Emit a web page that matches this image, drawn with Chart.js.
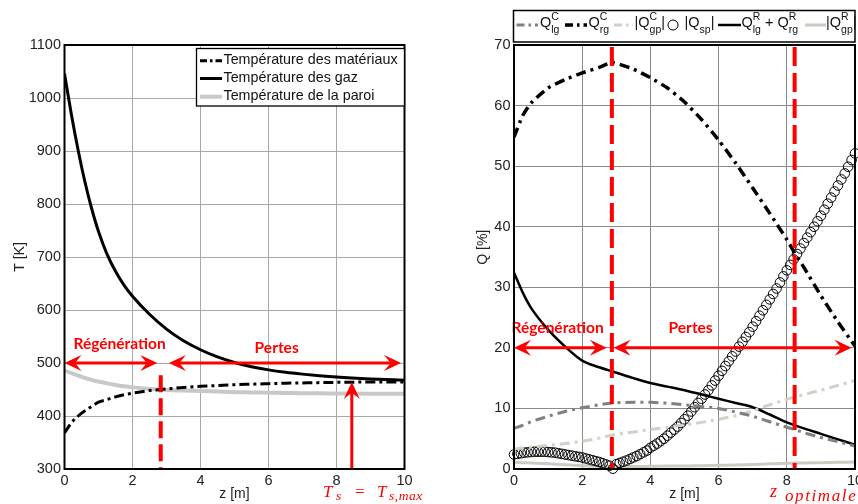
<!DOCTYPE html>
<html><head><meta charset="utf-8">
<script src="https://cdn.jsdelivr.net/npm/chart.js@4.4.0/dist/chart.umd.min.js"></script>
<style>
html,body{margin:0;padding:0;background:#fff;}
#wrap{position:relative;width:858px;height:504px;overflow:hidden;background:#fff;}
canvas{position:absolute;top:0;}
</style></head><body>
<div id="wrap">
<canvas id="c1" width="430" height="504" style="left:0"></canvas>
<canvas id="c2" width="450" height="504" style="left:430px"></canvas>
</div>
<script>
// ---------- Left panel data: temperatures [K] vs z [m] ----------
const zT    = [0,0.2,0.4,0.6,0.8,1,1.25,1.5,1.75,2,2.5,3,3.5,4,4.5,5,5.5,6,6.5,7,7.5,8,9,10];
const tGas  = [1046,970,902,842,791,748,705.5,673,647,626,592,564,542,525,511.5,501,493,487,482.5,479,476,473.5,470,467.5];
const tMat  = [368,387,400,410,418,426,431,436,440,443,448,451,454,456,457.5,459,460,461,462,462.5,463,463.5,464,464];
const tWall = [486,481,476,472,468,465,461.5,458.5,456,454,451,449,448,447,446,445,444.5,444,443.5,443,442.7,442.5,442,442];
const leftLabels = ['Température des matériaux','Température des gaz','Température de la paroi'];

// ---------- Right panel data: Q [%] vs z [m] ----------
const zQ      = [0,0.25,0.5,1,1.5,2,2.5,2.88,3.5,4,4.5,5,5.5,6,6.5,7,7.5,8,8.24,8.5,9,9.5,10];
const qLgC    = [6.7,7.2,7.8,8.7,9.5,10.1,10.6,10.9,11.0,11.0,10.85,10.6,10.3,10.0,9.4,8.7,7.8,6.9,6.5,6.0,5.2,4.5,3.8];
const qRgC    = [54.8,58.3,60.4,62.9,64.3,65.4,66.3,67.1,66.0,64.6,62.9,60.6,57.7,54.3,50.5,46.4,42.2,37.9,35.6,33.3,28.6,24.3,20.3];
const qGpC    = [3.3,3.45,3.6,3.9,4.2,4.6,5.1,5.6,6.1,6.5,6.9,7.3,7.7,8.2,8.8,9.6,10.6,11.5,11.9,12.3,13.0,13.8,14.6];
const qLgRgR  = [32.4,29.2,26.6,23.0,20.2,17.9,16.8,16.1,15.0,14.2,13.6,13.0,12.3,11.6,10.9,10.2,9.0,7.7,7.2,6.7,5.8,4.9,4.0];
const qGpR    = [1.1,1.05,1.0,0.85,0.7,0.55,0.45,0.4,0.4,0.45,0.5,0.5,0.55,0.6,0.65,0.75,0.85,0.95,0.97,1.0,1.05,1.1,1.15];
const zSp = [0,0.1,0.2,0.3,0.4,0.5,0.6,0.7,0.8,0.9,1,1.1,1.2,1.3,1.4,1.5,1.6,1.7,1.8,1.9,2,2.1,2.2,2.3,2.4,2.5,2.6,2.7,2.8,2.9,
             3,3.1,3.2,3.3,3.4,3.5,3.6,3.7,3.8,3.9,4,4.1,4.2,4.3,4.4,4.5,4.6,4.7,4.8,4.9,5,5.1,5.2,5.3,5.4,5.5,5.6,5.7,5.8,5.9,
             6,6.1,6.2,6.3,6.4,6.5,6.6,6.7,6.8,6.9,7,7.1,7.2,7.3,7.4,7.5,7.6,7.7,7.8,7.9,8,8.1,8.2,8.3,8.4,8.5,8.6,8.7,8.8,8.9,
             9,9.1,9.2,9.3,9.4,9.5,9.6,9.7,9.8,9.9,10];
const qSp = [2.4,2.5,2.6,2.7,2.75,2.8,2.85,2.85,2.85,2.85,2.8,2.75,2.7,2.6,2.5,2.4,2.3,2.2,2.1,2.0,1.9,1.75,1.6,1.45,1.3,1.15,0.95,0.75,0.55,0.05,
             0.8,1.0,1.2,1.4,1.65,1.9,2.15,2.45,2.75,3.05,3.5,3.85,4.2,4.6,5.0,5.5,6.0,6.5,7.0,7.6,8.2,8.8,9.5,10.2,10.9,11.6,12.3,13.0,13.8,14.6,
             15.4,16.2,17.0,17.8,18.6,19.4,20.2,21.0,21.8,22.6,23.5,24.4,25.3,26.2,27.1,28.0,28.9,29.8,30.8,31.8,32.8,33.7,34.6,35.5,36.4,37.3,38.2,39.1,40.0,40.9,
             41.8,42.8,43.8,44.8,45.8,46.8,47.8,48.8,49.9,51.0,52.1];

// ---------- annotation positions (data units) ----------
const zRegenL = 2.83, zTsMax = 8.45, tTsMax = 464;
const zRegenR = 2.87, zOpt = 8.23;

const FONT = "'Liberation Sans', Arial, sans-serif";
const TXT = '#222';
const RED = '#ff0000';
const pts = (xs, ys) => xs.map((x, i) => ({x, y: ys[i]}));

function arrowHead(ctx, tx, ty, ang, len, half) {
  ctx.save(); ctx.translate(tx, ty); ctx.rotate(ang);
  ctx.beginPath(); ctx.moveTo(0, 0); ctx.lineTo(-len, -half); ctx.lineTo(-len * 0.62, 0); ctx.lineTo(-len, half);
  ctx.closePath(); ctx.fill(); ctx.restore();
}
function dblArrow(ctx, x1, x2, y) {
  ctx.beginPath(); ctx.moveTo(x1 + 6, y); ctx.lineTo(x2 - 6, y); ctx.stroke();
  arrowHead(ctx, x2, y, 0, 17, 8); arrowHead(ctx, x1, y, Math.PI, 17, 8);
}
function spaced(ctx, s, x, y, sp) {
  let cx = x;
  for (const ch of s) { ctx.fillText(ch, cx, y); cx += ctx.measureText(ch).width + sp; }
  return cx;
}
function rich(ctx, x, y, parts) {
  let cx = x;
  for (const p of parts) {
    if (p.t !== undefined) { ctx.font = '14.5px ' + FONT; ctx.fillText(p.t, cx, y); cx += ctx.measureText(p.t).width; }
    else {
      ctx.font = '10.5px ' + FONT; let w = 0;
      if (p.sup) { ctx.fillText(p.sup, cx, y - 6.5); w = Math.max(w, ctx.measureText(p.sup).width); }
      if (p.sub) { ctx.fillText(p.sub, cx, y + 6.5); w = Math.max(w, ctx.measureText(p.sub).width); }
      cx += w;
    }
  }
  return cx;
}
function sample(ctx, x1, x2, y, ds) {
  ctx.save(); ctx.strokeStyle = ds.borderColor; ctx.lineWidth = ds.borderWidth;
  ctx.setLineDash(ds.legendDash || []); ctx.beginPath(); ctx.moveTo(x1, y); ctx.lineTo(x2, y); ctx.stroke(); ctx.restore();
}

function axisCfg(min, max, step, title, titlePad, size, gridColor) {
  return {
    type: 'linear', min, max,
    ticks: {stepSize: step, padding: 3.5, color: TXT, font: {family: FONT, size: 14.5}, maxRotation: 0, autoSkip: false,
            callback: v => String(v)},
    grid: {color: gridColor, drawTicks: false, lineWidth: 1},
    border: {display: false},
    title: {display: true, text: title, color: TXT, font: {family: FONT, size: 14}, padding: titlePad},
    afterFit(s) { if (s.isHorizontal()) s.height = size; else s.width = size; }
  };
}

// ---------------- LEFT CHART ----------------
const leftDeco = {
  id: 'leftDeco',
  afterDatasetsDraw(chart) {
    const {ctx, chartArea: a, scales: {x, y}} = chart;
    ctx.save();
    ctx.strokeStyle = RED; ctx.fillStyle = RED;
    ctx.lineWidth = 4; ctx.setLineDash([17, 6]);
    const xd = x.getPixelForValue(zRegenL);
    ctx.beginPath(); ctx.moveTo(xd, y.getPixelForValue(477)); ctx.lineTo(xd, y.getPixelForValue(300)); ctx.stroke();
    ctx.setLineDash([]); ctx.lineWidth = 3;
    const ya = y.getPixelForValue(500);
    dblArrow(ctx, x.getPixelForValue(0), x.getPixelForValue(2.73), ya);
    dblArrow(ctx, x.getPixelForValue(3.07), x.getPixelForValue(9.9), ya);
    const xv = x.getPixelForValue(zTsMax);
    ctx.beginPath(); ctx.moveTo(xv, y.getPixelForValue(300)); ctx.lineTo(xv, y.getPixelForValue(tTsMax) + 8); ctx.stroke();
    arrowHead(ctx, xv, y.getPixelForValue(tTsMax), -Math.PI / 2, 17, 8);
    ctx.font = "bold 15.5px Lato, 'Open Sans', sans-serif"; ctx.textAlign = 'center'; ctx.textBaseline = 'alphabetic';
    ctx.fillText('Régénération', x.getPixelForValue(1.62), 349);
    ctx.fillText('Pertes', x.getPixelForValue(6.24), 352.5);
    // frame
    ctx.strokeStyle = '#000'; ctx.lineWidth = 2;
    ctx.strokeRect(a.left, a.top, a.right - a.left, a.bottom - a.top);
    // legend
    ctx.fillStyle = '#fff'; ctx.fillRect(196, 48, 208, 58);
    ctx.strokeStyle = '#000'; ctx.lineWidth = 1.3; ctx.strokeRect(196.5, 48.5, 208, 57.5);
    const sy = [60.7, 78.5, 96.7];
    chart.data.datasets.forEach((ds, i) => {
      sample(ctx, 200, 222, sy[i], ds);
      ctx.fillStyle = '#111'; ctx.textAlign = 'left'; ctx.font = '14.3px ' + FONT;
      ctx.fillText(ds.label, 223.5, sy[i] + 3.5);
    });
    // Ts = Ts,max
    ctx.fillStyle = RED; ctx.textAlign = 'left';
    ctx.font = "italic 17px 'Liberation Serif', serif"; ctx.fillText('T', 323, 497);
    ctx.font = "italic 13.5px 'Liberation Serif', serif"; ctx.fillText('s', 336, 500);
    ctx.font = "17px 'Liberation Serif', serif"; ctx.fillText('=', 355, 497);
    ctx.font = "italic 17px 'Liberation Serif', serif"; ctx.fillText('T', 377, 497);
    ctx.font = "italic 13.5px 'Liberation Serif', serif"; spaced(ctx, 's,max', 389, 500, 0.5);
    ctx.restore();
  }
};

new Chart(document.getElementById('c1'), {
  type: 'line',
  data: {datasets: [
    {label: leftLabels[0], data: pts(zT, tMat), borderColor: '#000', borderWidth: 3, borderDash: [10, 4, 3, 4], legendDash: [7, 3, 2.5, 3], pointRadius: 0, cubicInterpolationMode: 'monotone'},
    {label: leftLabels[1], data: pts(zT, tGas), borderColor: '#000', borderWidth: 3, pointRadius: 0, cubicInterpolationMode: 'monotone'},
    {label: leftLabels[2], data: pts(zT, tWall), borderColor: '#c8c8c8', borderWidth: 4, pointRadius: 0, cubicInterpolationMode: 'monotone'}
  ]},
  options: {
    responsive: false, animation: false, devicePixelRatio: 1,
    layout: {padding: {left: 0, right: 25.5, top: 45, bottom: 0}},
    plugins: {legend: {display: false}, tooltip: {enabled: false}},
    scales: {
      x: axisCfg(0, 10, 2, 'z [m]', {top: 0, bottom: 1}, 35, '#a8a8a8'),
      y: axisCfg(300, 1100, 100, 'T [K]', {top: 11.6, bottom: 0}, 64.5, '#a8a8a8')
    }
  },
  plugins: [leftDeco]
});

// ---------------- RIGHT CHART ----------------
const OX = 430;
const rightDeco = {
  id: 'rightDeco',
  afterDatasetsDraw(chart) {
    const {ctx, chartArea: a, scales: {x, y}} = chart;
    ctx.save();
    ctx.strokeStyle = RED; ctx.fillStyle = RED;
    ctx.lineWidth = 4; ctx.setLineDash([19, 7]);
    for (const zv of [zRegenR, zOpt]) {
      const xd = x.getPixelForValue(zv);
      ctx.beginPath(); ctx.moveTo(xd, a.top + 2); ctx.lineTo(xd, a.bottom); ctx.stroke();
    }
    ctx.setLineDash([]); ctx.lineWidth = 3;
    const ya = y.getPixelForValue(20);
    dblArrow(ctx, x.getPixelForValue(0), x.getPixelForValue(2.72), ya);
    dblArrow(ctx, x.getPixelForValue(2.92), x.getPixelForValue(9.9), ya);
    ctx.font = "bold 15.5px Lato, 'Open Sans', sans-serif"; ctx.textAlign = 'center';
    ctx.fillText('Régénération', x.getPixelForValue(1.28), 333);
    ctx.fillText('Pertes', x.getPixelForValue(5.18), 333);
    ctx.strokeStyle = '#000'; ctx.lineWidth = 2;
    ctx.strokeRect(a.left, a.top, a.right - a.left, a.bottom - a.top);
    // legend box
    ctx.fillStyle = '#fff'; ctx.fillRect(513 - OX, 10, 342, 32);
    ctx.strokeStyle = '#000'; ctx.lineWidth = 1.5; ctx.strokeRect(513.5 - OX, 10.5, 341.5, 31.5);
    const ds = chart.data.datasets;
    const ly = 25, by = 26.5;
    ctx.textAlign = 'left'; ctx.fillStyle = '#111';
    sample(ctx, 516.5 - OX, 538 - OX, ly, ds[0]);
    ctx.fillStyle = '#111'; rich(ctx, 540 - OX, by, [{t: 'Q'}, {sup: 'C', sub: 'lg'}]);
    sample(ctx, 565 - OX, 587 - OX, ly, ds[1]);
    rich(ctx, 588.5 - OX, by, [{t: 'Q'}, {sup: 'C', sub: 'rg'}]);
    sample(ctx, 614 - OX, 633 - OX, ly, ds[2]);
    rich(ctx, 634.5 - OX, by, [{t: '|Q'}, {sup: 'C', sub: 'gp'}, {t: '|'}]);
    ctx.save(); ctx.strokeStyle = '#000'; ctx.lineWidth = 1; ctx.beginPath(); ctx.arc(673 - OX, ly, 5, 0, Math.PI * 2); ctx.stroke(); ctx.restore();
    rich(ctx, 684.5 - OX, by, [{t: '|Q'}, {sub: 'sp'}, {t: '|'}]);
    sample(ctx, 718 - OX, 741 - OX, ly, ds[4]);
    rich(ctx, 741.5 - OX, by, [{t: 'Q'}, {sup: 'R', sub: 'lg'}, {t: ' + Q'}, {sup: 'R', sub: 'rg'}]);
    sample(ctx, 805 - OX, 826 - OX, ly, ds[5]);
    rich(ctx, 826 - OX, by, [{t: '|Q'}, {sup: 'R', sub: 'gp'}, {t: '|'}]);
    // z optimale
    ctx.fillStyle = RED;
    ctx.font = "italic 18px 'Liberation Serif', serif"; ctx.fillText('z', 770 - OX, 497);
    ctx.font = "italic 17px 'Liberation Serif', serif"; spaced(ctx, 'optimale', 785 - OX, 500.5, 1.6);
    ctx.restore();
  }
};

new Chart(document.getElementById('c2'), {
  type: 'line',
  data: {datasets: [
    {label: 'Q_lg^C', data: pts(zQ, qLgC), borderColor: '#808080', borderWidth: 3, borderDash: [10, 5, 3, 5], legendDash: [8, 4, 2.5, 4], pointRadius: 0, cubicInterpolationMode: 'monotone'},
    {label: 'Q_rg^C', data: pts(zQ, qRgC), borderColor: '#000', borderWidth: 3.5, borderDash: [10, 5, 3, 5], legendDash: [8, 4, 2.5, 4], pointRadius: 0, tension: 0.2},
    {label: '|Q_gp^C|', data: pts(zQ, qGpC), borderColor: '#d3d0c7', borderWidth: 3, borderDash: [10, 5, 3, 5], legendDash: [8, 4, 2.5, 4], pointRadius: 0, cubicInterpolationMode: 'monotone'},
    {label: '|Q_sp|', data: pts(zSp, qSp), showLine: false, pointRadius: 4.8, pointBorderWidth: 1, pointBorderColor: '#000', pointBackgroundColor: 'rgba(0,0,0,0)', borderColor: '#000', clip: false},
    {label: 'Q_lg^R + Q_rg^R', data: pts(zQ, qLgRgR), borderColor: '#000', borderWidth: 2.5, pointRadius: 0, cubicInterpolationMode: 'monotone'},
    {label: '|Q_gp^R|', data: pts(zQ, qGpR), borderColor: '#cdcac1', borderWidth: 3, pointRadius: 0, cubicInterpolationMode: 'monotone'}
  ]},
  options: {
    responsive: false, animation: false, devicePixelRatio: 1,
    layout: {padding: {left: 0, right: 25, top: 45, bottom: 0}},
    plugins: {legend: {display: false}, tooltip: {enabled: false}},
    scales: {
      x: axisCfg(0, 10, 2, 'z [m]', {top: 0, bottom: 1}, 35, '#8a8a8a'),
      y: axisCfg(0, 70, 10, '\u00a0\u00a0\u00a0\u00a0\u00a0Q [%]', {top: 44.6, bottom: 0}, 84, '#8a8a8a')
    }
  },
  plugins: [rightDeco]
});
</script>
</body></html>
